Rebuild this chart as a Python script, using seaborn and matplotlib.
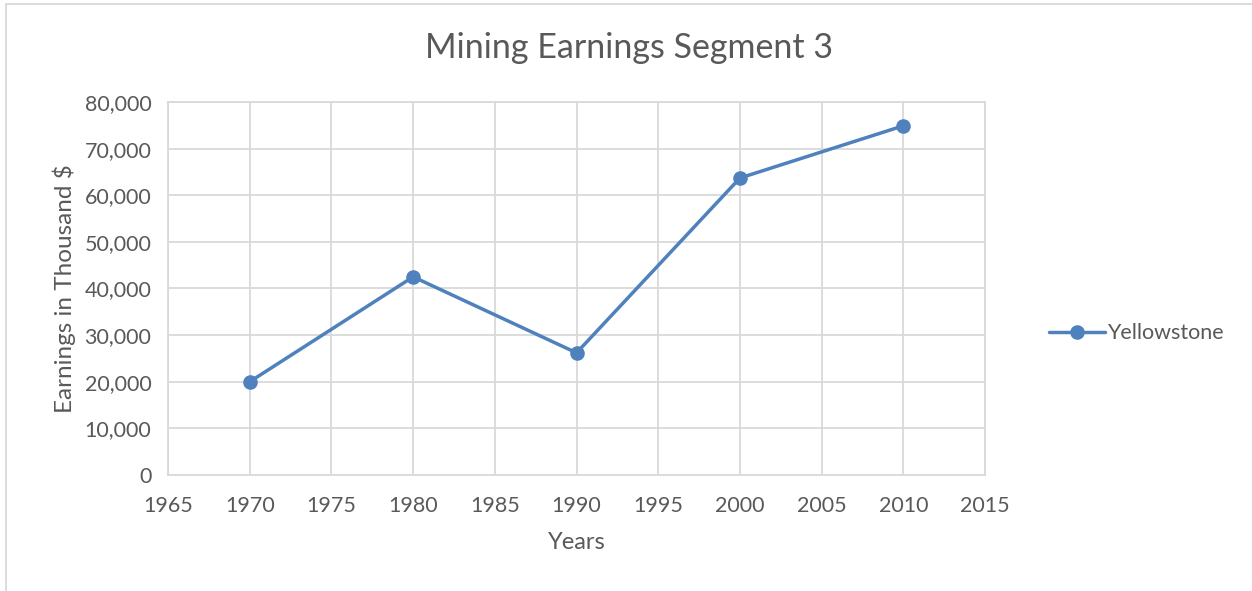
import matplotlib
matplotlib.use("Agg")
import matplotlib.pyplot as plt
import matplotlib.ticker as mticker
import pandas as pd
import seaborn as sns

# Data
years = [1970, 1980, 1990, 2000, 2010]
earnings = [20000, 42500, 26200, 63700, 74900]
series_name = "Yellowstone"

sns.set_theme(style="white")
plt.rcParams["font.family"] = ["Lato", "DejaVu Sans"]

text_color = "#595959"
grid_color = "#D9D9D9"
line_color = "#4F81BD"

df = pd.DataFrame({"Years": years, "Earnings": earnings, "Series": series_name})

fig = plt.figure(figsize=(12.52, 5.91), dpi=100)
ax = fig.add_axes([0.1342, 0.1963, 0.6526, 0.6311])

sns.lineplot(data=df, x="Years", y="Earnings", hue="Series", palette=[line_color],
             marker="o", markersize=10.5, markeredgewidth=0, linewidth=2.5, ax=ax)

ax.set_xlim(1965, 2015)
ax.set_ylim(0, 80000)
ax.xaxis.set_major_locator(mticker.MultipleLocator(5))
ax.yaxis.set_major_locator(mticker.MultipleLocator(10000))
ax.yaxis.set_major_formatter(mticker.FuncFormatter(lambda v, p: f"{int(v):,}"))
ax.grid(True, color=grid_color, linewidth=1.3)
ax.set_axisbelow(True)
for s in ax.spines.values():
    s.set_color(grid_color)
    s.set_linewidth(1.3)
ax.tick_params(axis="both", length=0, labelsize=15.5, colors=text_color)
ax.tick_params(axis="x", pad=15)
ax.tick_params(axis="y", pad=12)

ax.set_xlabel("Years", fontsize=17, color=text_color, labelpad=12)
ax.set_ylabel("Earnings in Thousand $", fontsize=17.5, color=text_color, labelpad=6)
fig.text(0.502, 0.918, "Mining Earnings Segment 3", fontsize=24.5, color=text_color,
         ha="center", va="center")

leg = ax.legend(loc="center left", bbox_to_anchor=(1.054, 0.38), frameon=False,
                fontsize=15.5, handlelength=2.6, handletextpad=0.1)
for t in leg.get_texts():
    t.set_color(text_color)

# outer chart frame (cut off at right/bottom like the reference)
fig.patches.append(plt.Rectangle((0.005, -0.05), 1.2, 1.043, transform=fig.transFigure,
                                 fill=False, edgecolor=grid_color, linewidth=1.3))

fig.savefig("out.png", dpi=100)
